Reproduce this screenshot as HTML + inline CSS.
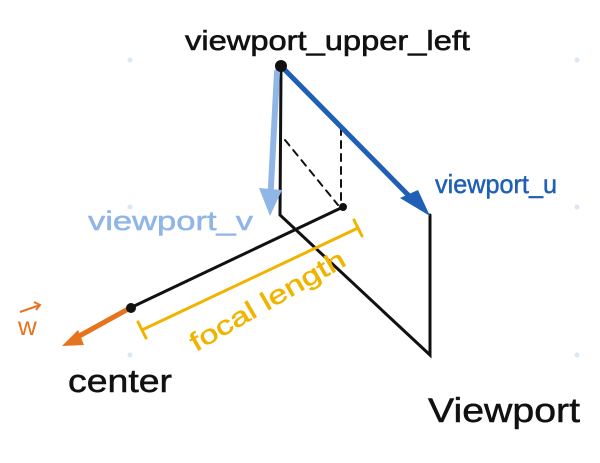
<!DOCTYPE html>
<html><head><meta charset="utf-8"><style>
html,body{margin:0;padding:0;background:#fff;}
svg{display:block}
text{font-family:"Liberation Sans",sans-serif;}
</style></head><body>
<svg width="600" height="463" viewBox="0 0 600 463" xmlns="http://www.w3.org/2000/svg">
<g fill="#dbe7f5">
<circle cx="130" cy="60" r="2.5"/><circle cx="577" cy="60" r="2.5"/>
<circle cx="130" cy="207" r="2.5"/><circle cx="577" cy="207" r="2.5"/>
<circle cx="130" cy="355" r="2.5"/><circle cx="577" cy="355" r="2.5"/>
</g>
<text x="185" y="50" font-size="28" fill="#111" textLength="285" lengthAdjust="spacingAndGlyphs" stroke="#111" stroke-width="0.6">viewport_upper_left</text>
<g stroke="#111" stroke-width="3" fill="none" stroke-linecap="round">
<path d="M281 70 L280 215 L430 355 L430 215"/>
<path d="M130 308 L343 207"/>
<path d="M285 140 L338 205" stroke-dasharray="7 6" stroke-width="2"/>
<path d="M341 128 L341 203" stroke-dasharray="7 6" stroke-width="2"/>
</g>
<circle cx="343" cy="207" r="4" fill="#111"/>
<path d="M283 68 L418 205" stroke="#1f5fb5" stroke-width="5" fill="none" stroke-linecap="round"/>
<path d="M400 198 L430 216 L418 190 Z" fill="#1f5fb5"/>
<path d="M277 72 L270 205" stroke="#8fb6e6" stroke-width="6" fill="none" stroke-linecap="round"/>
<path d="M259 188 L270 216 L282 190 Z" fill="#8fb6e6"/>
<circle cx="281" cy="66" r="6" fill="#111"/>
<path d="M130 308 L72 340" stroke="#e8731f" stroke-width="5" fill="none" stroke-linecap="round"/>
<path d="M62 346 L78 330 L84 345 Z" fill="#e8731f"/>
<circle cx="131" cy="308" r="5" fill="#111"/>
<text x="18" y="335" font-size="26" fill="#e8731f">w</text>
<path d="M20 312 L40 305 M34 302 L40 305 L36 310" stroke="#e8731f" stroke-width="2" fill="none"/>
<g stroke="#f0b400" stroke-width="3" fill="none" stroke-linecap="round">
<path d="M142 330 L358 228"/><path d="M138 322 L146 338"/><path d="M354 220 L362 236"/>
</g>
<text x="0" y="0" font-size="26" fill="#f0b400" stroke="#f0b400" stroke-width="0.5" textLength="175" lengthAdjust="spacingAndGlyphs" transform="translate(196 352) rotate(-30)">focal length</text>
<text x="435" y="193" font-size="26" fill="#1f5fb5" stroke="#1f5fb5" stroke-width="0.5" textLength="122" lengthAdjust="spacingAndGlyphs">viewport_u</text>
<text x="88" y="230" font-size="27" fill="#8fb6e6" stroke="#8fb6e6" stroke-width="0.5" textLength="165" lengthAdjust="spacingAndGlyphs">viewport_v</text>
<text x="68" y="392" font-size="32" fill="#111" stroke="#111" stroke-width="0.5" textLength="104" lengthAdjust="spacingAndGlyphs">center</text>
<text x="428" y="422" font-size="34" fill="#111" stroke="#111" stroke-width="0.5" textLength="152" lengthAdjust="spacingAndGlyphs">Viewport</text>
</svg>
</body></html>
